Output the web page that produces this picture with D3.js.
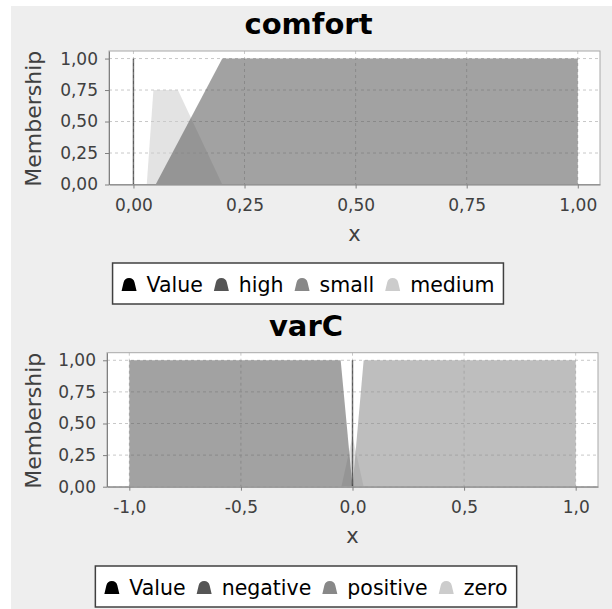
<!DOCTYPE html>
<html>
<head>
<meta charset="utf-8">
<script src="https://cdn.jsdelivr.net/npm/d3@7"></script>
<style>
  body { margin: 0; background: #ffffff; }
  svg { display: block; font-family: "DejaVu Sans", sans-serif; }
</style>
</head>
<body>
<svg id="chart" width="612" height="609"></svg>
<script>
// series names and colours (legend order)
var comfortNames = ["Value", "high", "small", "medium"];
var varCNames = ["Value", "negative", "positive", "zero"];
var seriesColors = ["#000000", "#555555", "#888888", "#cccccc"];

// comfort membership functions, [x, membership]
var comfortValue = [[0, 0], [0, 1]];
var comfortHigh = [[0.05, 0], [0.2, 1], [1, 1], [1, 0]];
var comfortSmall = [[0, 0], [0.05, 0]];
var comfortMedium = [[0.03, 0], [0.045, 0.75], [0.1, 0.75], [0.2, 0]];
var comfortXTicks = [0, 0.25, 0.5, 0.75, 1];

// varC membership functions
var varCValue = [[0, 0], [0, 1]];
var varCNegative = [[-1, 0], [-1, 1], [-0.053, 1], [0, 0]];
var varCPositive = [[0, 0], [0.05, 1], [1, 1], [1, 0]];
var varCZero = [[-0.05, 0], [0, 0.4], [0.05, 0]];
var varCXTicks = [-1, -0.5, 0, 0.5, 1];

var membershipTicks = [0, 0.25, 0.5, 0.75, 1];

// comma decimals, plain hyphen minus
var locale = d3.formatLocale({decimal: ",", thousands: ".", grouping: [3], currency: ["", ""], minus: "-"});
var fmt2 = locale.format(".2f");
var fmt1 = locale.format(".1f");

var svg = d3.select("#chart");

// grey panel behind both charts
svg.append("rect")
    .attr("x", 11).attr("y", 6)
    .attr("width", 601).attr("height", 603)
    .attr("fill", "#eeeeee");

function drawPanel(cfg) {
    var g = svg.append("g");

    var x = d3.scaleLinear().domain(cfg.xDomain).range([cfg.left, cfg.right]);
    var y = d3.scaleLinear().domain([0, 1.06]).range([cfg.bottom, cfg.top]);

    // title
    g.append("text")
        .attr("x", cfg.titleX).attr("y", cfg.titleY)
        .attr("text-anchor", "middle")
        .style("font-size", "29px").style("font-weight", "bold")
        .attr("fill", "#000")
        .text(cfg.title);

    // plot background
    g.append("rect")
        .attr("x", cfg.left).attr("y", cfg.top)
        .attr("width", cfg.right - cfg.left).attr("height", cfg.bottom - cfg.top)
        .attr("fill", "#ffffff");

    // dashed grid
    g.selectAll(".vgrid").data(cfg.xTicks).enter().append("line")
        .attr("x1", function(d) { return x(d); }).attr("x2", function(d) { return x(d); })
        .attr("y1", cfg.top).attr("y2", cfg.bottom)
        .attr("stroke", "#c8c8c8").attr("stroke-dasharray", "3,3");
    g.selectAll(".hgrid").data(membershipTicks).enter().append("line")
        .attr("x1", cfg.left).attr("x2", cfg.right)
        .attr("y1", function(d) { return y(d); }).attr("y2", function(d) { return y(d); })
        .attr("stroke", "#c8c8c8").attr("stroke-dasharray", "3,3");

    var area = d3.area()
        .x(function(d) { return x(d[0]); })
        .y0(y(0))
        .y1(function(d) { return y(d[1]); });

    // series drawn last-to-first, translucent
    for (var i = cfg.series.length - 1; i >= 1; i--) {
        g.append("path")
            .datum(cfg.series[i])
            .attr("d", area)
            .attr("fill", seriesColors[i])
            .attr("fill-opacity", 0.55);
    }

    var line = d3.line()
        .x(function(d) { return x(d[0]); })
        .y(function(d) { return y(d[1]); });
    g.append("path")
        .datum(cfg.series[0])
        .attr("d", line)
        .attr("fill", "none")
        .attr("stroke", seriesColors[0])
        .attr("stroke-opacity", 0.55)
        .attr("stroke-width", 1.5);

    // outline
    g.append("rect")
        .attr("x", cfg.left).attr("y", cfg.top)
        .attr("width", cfg.right - cfg.left).attr("height", cfg.bottom - cfg.top)
        .attr("fill", "none").attr("stroke", "#a8a8a8");

    // axes
    var xAxis = g.append("g")
        .attr("transform", "translate(0," + cfg.bottom + ")")
        .call(d3.axisBottom(x).tickValues(cfg.xTicks).tickFormat(cfg.xFormat)
            .tickSize(4).tickSizeOuter(0).tickPadding(10.5));
    var yAxis = g.append("g")
        .attr("transform", "translate(" + cfg.left + ",0)")
        .call(d3.axisLeft(y).tickValues(membershipTicks).tickFormat(fmt2)
            .tickSize(4).tickSizeOuter(0).tickPadding(7));
    [xAxis, yAxis].forEach(function(a) {
        a.select(".domain").attr("stroke", "#808080");
        a.selectAll(".tick line").attr("stroke", "#808080");
        a.selectAll(".tick text")
            .attr("fill", "#404040")
            .style("font-size", "17px")
            .style("font-family", "DejaVu Sans, sans-serif");
    });

    // axis labels
    g.append("text")
        .attr("x", (cfg.left + cfg.right) / 2).attr("y", cfg.bottom + 56.5)
        .attr("text-anchor", "middle")
        .style("font-size", "21px").attr("fill", "#404040")
        .text("x");
    g.append("text")
        .attr("transform", "translate(41," + ((cfg.top + cfg.bottom) / 2 + 1) + ") rotate(-90)")
        .attr("text-anchor", "middle")
        .style("font-size", "22px").attr("fill", "#404040")
        .text("Membership");

    drawLegend(g, cfg.names, cfg.legendX, cfg.legendTop);
}

function drawLegend(g, names, cx, top) {
    var box = g.append("rect");
    var items = g.append("g");
    var pos = 0;
    names.forEach(function(name, i) {
        items.append("path")
            .attr("d", "M-7.5,6.5 L-5.5,-2 Q-4.5,-6.5 0,-6.5 Q4.5,-6.5 5.5,-2 L7.5,6.5 Z")
            .attr("transform", "translate(" + (pos + 7.5) + ",0)")
            .attr("fill", seriesColors[i]);
        var t = items.append("text")
            .attr("x", pos + 25).attr("y", 7.5)
            .style("font-size", "20.5px").attr("fill", "#000")
            .text(name);
        pos += 25 + t.node().getComputedTextLength() + 11;
    });
    var w = pos - 11 + 18;
    box.attr("x", cx - w / 2).attr("y", top)
        .attr("width", w).attr("height", 41)
        .attr("fill", "#ffffff").attr("stroke", "#404040").attr("stroke-width", 1.5);
    items.attr("transform", "translate(" + (cx - w / 2 + 9) + "," + (top + 21.5) + ")");
}

drawPanel({
    title: "comfort", titleX: 308.5, titleY: 34,
    names: comfortNames,
    series: [comfortValue, comfortHigh, comfortSmall, comfortMedium],
    xDomain: [-0.055, 1.05], xTicks: comfortXTicks, xFormat: fmt2,
    left: 109, right: 600, top: 51, bottom: 184.5,
    legendX: 308, legendTop: 263
});

drawPanel({
    title: "varC", titleX: 306, titleY: 336,
    names: varCNames,
    series: [varCValue, varCNegative, varCPositive, varCZero],
    xDomain: [-1.1, 1.1], xTicks: varCXTicks, xFormat: fmt1,
    left: 107, right: 598, top: 352.7, bottom: 486.7,
    legendX: 306, legendTop: 566
});
</script>
</body>
</html>
